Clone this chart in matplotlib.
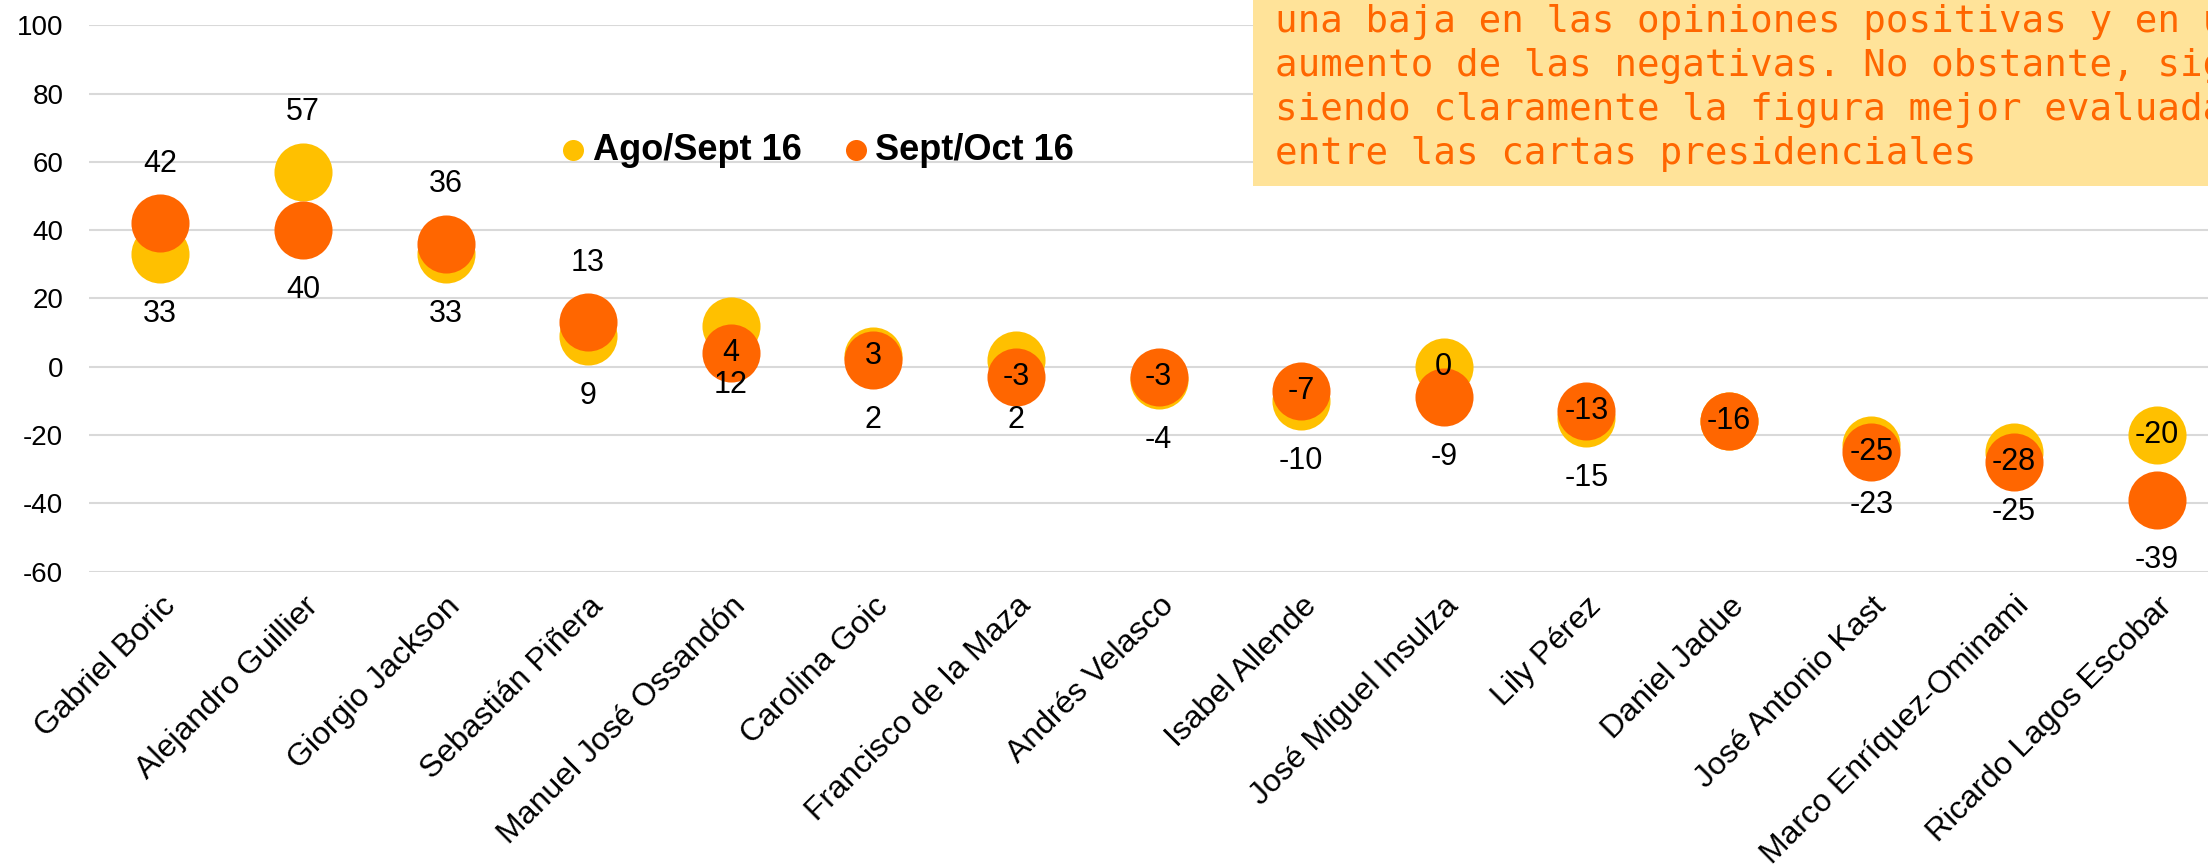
import matplotlib
matplotlib.use("Agg")
import matplotlib.pyplot as plt
from matplotlib.patches import Rectangle

# ---------------- data ----------------
categories = ["Gabriel Boric", "Alejandro Guillier", "Giorgio Jackson", "Sebastián Piñera",
              "Manuel José Ossandón", "Carolina Goic", "Francisco de la Maza", "Andrés Velasco",
              "Isabel Allende", "José Miguel Insulza", "Lily Pérez", "Daniel Jadue",
              "José Antonio Kast", "Marco Enríquez-Ominami", "Ricardo Lagos Escobar"]
series_names = ["Ago/Sept 16", "Sept/Oct 16"]
ago_sept = [33, 57, 33, 9, 12, 3, 2, -4, -10, 0, -15, -16, -23, -25, -20]
sept_oct = [42, 40, 36, 13, 4, 2, -3, -3, -7, -9, -13, -16, -25, -28, -39]
# where Excel put each data label
ago_label_pos = ['below', 'above', 'below', 'below', 'below', 'center', 'below', 'below',
                 'below', 'center', 'below', None, 'below', 'below', 'center']
sept_label_pos = ['above', 'below', 'above', 'above', 'center', 'below', 'center', 'center',
                  'center', 'below', 'center', 'center', 'center', 'center', 'below']
yticks = [-60, -40, -20, 0, 20, 40, 60, 80, 100]
box_lines = ["una baja en las opiniones positivas y en un",
             "aumento de las negativas. No obstante, sigue",
             "siendo claramente la figura mejor evaluada",
             "entre las cartas presidenciales"]

# ---------------- style ----------------
YELLOW = "#FFC000"
ORANGE = "#FF6600"
BOX = "#FFE399"
GRID = "#D9D9D9"
plt.rcParams['font.family'] = ['Liberation Sans', 'DejaVu Sans']

W, H = 2208, 868
fig = plt.figure(figsize=(W / 100, H / 100), dpi=100)
fig.patch.set_facecolor("white")

ax_left, ax_right = 89, 2228
ax_top, ax_bot = 25.2, 571.6
ax = fig.add_axes([ax_left / W, 1 - ax_bot / H, (ax_right - ax_left) / W, (ax_bot - ax_top) / H])
ax.set_xlim(-0.5, len(categories) - 0.5)
ax.set_ylim(-60, 100)
for s in ax.spines.values():
    s.set_visible(False)
ax.set_yticks(yticks)
ax.set_yticklabels([str(t) for t in yticks])
ax.yaxis.grid(True, color=GRID, linewidth=1.5)
ax.set_axisbelow(True)
ax.tick_params(axis='y', length=0, pad=18.5, labelsize=20, colors='black')
ax.tick_params(axis='x', length=0, pad=14, labelsize=23, colors='black')
x = list(range(len(categories)))
ax.set_xticks(x)
ax.set_xticklabels(categories, rotation=45, ha='right', va='top', rotation_mode='anchor')

msize = 41.8
ax.scatter(x, ago_sept, s=msize ** 2, color=YELLOW, linewidths=0, zorder=3, label=series_names[0])
ax.scatter(x, sept_oct, s=msize ** 2, color=ORANGE, linewidths=0, zorder=4, label=series_names[1])

off = 43
def put_labels(vals, poss):
    for xi, v, p in zip(x, vals, poss):
        if p is None:
            continue
        dy = {'above': off, 'below': -off, 'center': 0}[p]
        ax.annotate(str(v), (xi, v), xytext=(0, dy), textcoords='offset points',
                    ha='center', va='center', fontsize=22, color='black', zorder=6)

put_labels(ago_sept, ago_label_pos)
put_labels(sept_oct, sept_label_pos)

leg = ax.legend(loc='center left', bbox_to_anchor=(562 / W, 1 - 150 / H),
                bbox_transform=fig.transFigure, ncol=2, frameon=False,
                markerscale=21 / 58, handlelength=0.6, handletextpad=0.25,
                columnspacing=1.2, borderpad=0, borderaxespad=0,
                prop={'weight': 'bold', 'size': 26})

# annotation box (cropped at the top right of the picture)
fig.patches.append(Rectangle((1252.7 / W, 1 - 185.7 / H), 1.0, 1.0, transform=fig.transFigure,
                             facecolor=BOX, edgecolor='none', zorder=10))
baselines = [31.7, 75.7, 120.0, 164.3]
for line, b in zip(box_lines, baselines):
    fig.text(1275 / W, 1 - b / H, line, ha='left', va='baseline', color=ORANGE,
             fontsize=27, family='DejaVu Sans Mono', zorder=11)

fig.savefig("out.png", dpi=100)
